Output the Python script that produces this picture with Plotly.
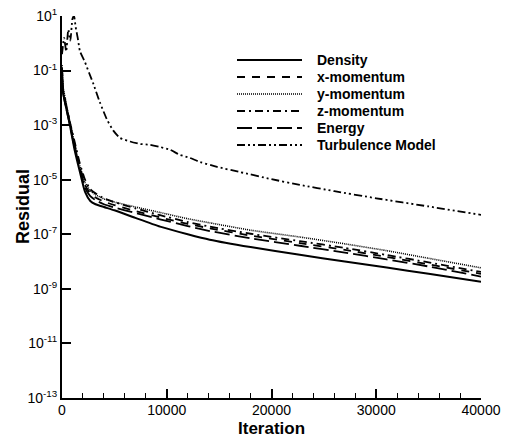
import plotly.graph_objects as go

# ---- data (iteration, log10 residual) ----
density_it = [0, 100, 300, 700, 1200, 1700, 2200, 2700, 3200, 4000, 5000, 7000, 9360, 12000, 14100, 18000, 22700, 27000, 31000, 35000, 40000]
density_lg = [-1.0, -1.8, -2.2, -2.9, -3.9, -4.7, -5.45, -5.78, -5.9, -6.0, -6.12, -6.4, -6.72, -7.0, -7.2, -7.47, -7.75, -8.0, -8.22, -8.45, -8.74]

xmom_it = [0, 100, 300, 700, 1200, 1700, 2200, 2700, 3200, 4000, 5000, 7000, 9360, 12000, 14100, 18000, 22700, 27000, 31000, 35000, 40000]
xmom_lg = [-0.9, -1.7, -2.1, -2.8, -3.7, -4.5, -5.2, -5.5, -5.65, -5.8, -5.93, -6.15, -6.38, -6.62, -6.78, -7.05, -7.32, -7.57, -7.83, -8.1, -8.45]

ymom_it = [0, 100, 300, 700, 1200, 1700, 2200, 2700, 3200, 4000, 5000, 7000, 9360, 12000, 14100, 18000, 22700, 27000, 31000, 35000, 40000]
ymom_lg = [-0.8, -1.6, -2.0, -2.8, -3.7, -4.5, -5.1, -5.4, -5.55, -5.7, -5.82, -6.0, -6.2, -6.43, -6.58, -6.85, -7.1, -7.35, -7.6, -7.88, -8.23]

zmom_it = [0, 100, 300, 700, 1200, 1700, 2200, 2700, 3200, 4000, 5000, 7000, 9360, 12000, 14100, 18000, 22700, 27000, 31000, 35000, 40000]
zmom_lg = [-0.9, -1.7, -2.1, -2.8, -3.6, -4.4, -5.0, -5.35, -5.5, -5.68, -5.82, -6.05, -6.3, -6.55, -6.72, -6.98, -7.25, -7.5, -7.76, -8.03, -8.38]

energy_it = [0, 100, 300, 700, 1200, 1700, 2200, 2700, 3200, 4000, 5000, 7000, 9360, 12000, 14100, 18000, 22700, 27000, 31000, 35000, 40000]
energy_lg = [-1.0, -1.8, -2.2, -2.9, -3.8, -4.6, -5.3, -5.6, -5.75, -5.9, -6.02, -6.22, -6.45, -6.7, -6.88, -7.15, -7.42, -7.67, -7.92, -8.18, -8.55]

turb_it = [0, 200, 400, 600, 800, 1000, 1150, 1300, 1500, 1720, 2200, 2600, 2960, 3600, 4300, 4900, 5540, 6500, 7450, 8400, 9360, 10300, 11270, 12200, 13180, 14800, 17000, 20000, 22700, 26000, 30000, 35000, 40000]
turb_lg = [-0.4, 0.2, -0.3, 0.5, 0.1, 0.9, 1.0, 0.6, 0.2, -0.3, -0.7, -1.1, -1.45, -2.15, -2.8, -3.2, -3.47, -3.6, -3.69, -3.72, -3.8, -3.9, -4.09, -4.2, -4.35, -4.53, -4.72, -4.98, -5.19, -5.42, -5.68, -5.98, -6.29]

series_names = ["Density", "x-momentum", "y-momentum", "z-momentum", "Energy", "Turbulence Model"]
series_data = [(density_it, density_lg), (xmom_it, xmom_lg), (ymom_it, ymom_lg),
               (zmom_it, zmom_lg), (energy_it, energy_lg), (turb_it, turb_lg)]

x_tick_vals = [0, 10000, 20000, 30000, 40000]
y_tick_exps = [1, -1, -3, -5, -7, -9, -11, -13]

# ---- styles ----
FONT = "Liberation Sans, Arial, sans-serif"
dashes = ["solid", "8px,7px", "1px,1px", "8px,4px,2px,4px", "15px,5px", "8px,3px,2px,3px,2px,3px"]
widths = [2, 1.8, 1.6, 1.8, 1.8, 1.8]

fig = go.Figure()
for name, (it, lg), d, w in zip(series_names, series_data, dashes, widths):
    fig.add_trace(go.Scatter(x=it, y=[10 ** v for v in lg], mode="lines", name=name,
                             line=dict(color="black", width=w, dash=d, shape="spline", smoothing=0.5),
                             showlegend=False))

# custom legend (line samples + labels) in paper coordinates
L, R, T, B = 62, 481, 16, 398
def px(x):
    return (x - L) / (R - L)
def py(y):
    return (B - y) / (B - T)
shapes = []
annotations = []
for i, (name, d, w) in enumerate(zip(series_names, dashes, widths)):
    yy = 60 + 17 * i
    shapes.append(dict(type="line", xref="paper", yref="paper", x0=px(237), x1=px(302),
                       y0=py(yy), y1=py(yy), line=dict(color="black", width=w, dash=d)))
    annotations.append(dict(text="<b>%s</b>" % name, xref="paper", yref="paper", x=px(315), y=py(yy),
                            xanchor="left", yanchor="middle", showarrow=False,
                            font=dict(family=FONT, size=14, color="black")))
# axis titles
annotations.append(dict(text="<b>Iteration</b>", xref="paper", yref="paper", x=px(271.5), y=py(428.5),
                        xanchor="center", yanchor="middle", showarrow=False, borderpad=0,
                        font=dict(family=FONT, size=17, color="black")))
annotations.append(dict(text="<b>Residual</b>", xref="paper", yref="paper", x=px(23), y=py(207),
                        xanchor="center", yanchor="middle", showarrow=False, textangle=-90,
                        font=dict(family=FONT, size=18, color="black")))

fig.update_layout(
    width=508, height=439,
    margin=dict(l=L, r=508 - R, t=T, b=439 - B),
    paper_bgcolor="white", plot_bgcolor="white",
    font=dict(family=FONT, size=14, color="black"),
    shapes=shapes, annotations=annotations,
)
fig.update_xaxes(
    range=[0, 40000], tickvals=x_tick_vals, ticktext=[str(v) for v in x_tick_vals],
    showline=True, linecolor="black", linewidth=2, mirror=False, automargin=False,
    ticks="inside", ticklen=9, tickwidth=2, tickcolor="black", ticklabelstandoff=-2,
    minor=dict(dtick=2000, ticks="inside", ticklen=5, tickwidth=1, tickcolor="black"),
    showgrid=False, zeroline=False, tickfont=dict(size=14),
)
fig.update_yaxes(
    type="log", range=[-13, 1],
    tickvals=[10 ** e for e in y_tick_exps], ticktext=["10<sup>%d</sup>" % e for e in y_tick_exps],
    showline=True, linecolor="black", linewidth=2, mirror=False, automargin=False,
    ticks="inside", ticklen=9, tickwidth=2, tickcolor="black",
    showgrid=False, zeroline=False, tickfont=dict(size=14),
)

fig.write_html("out.html")
